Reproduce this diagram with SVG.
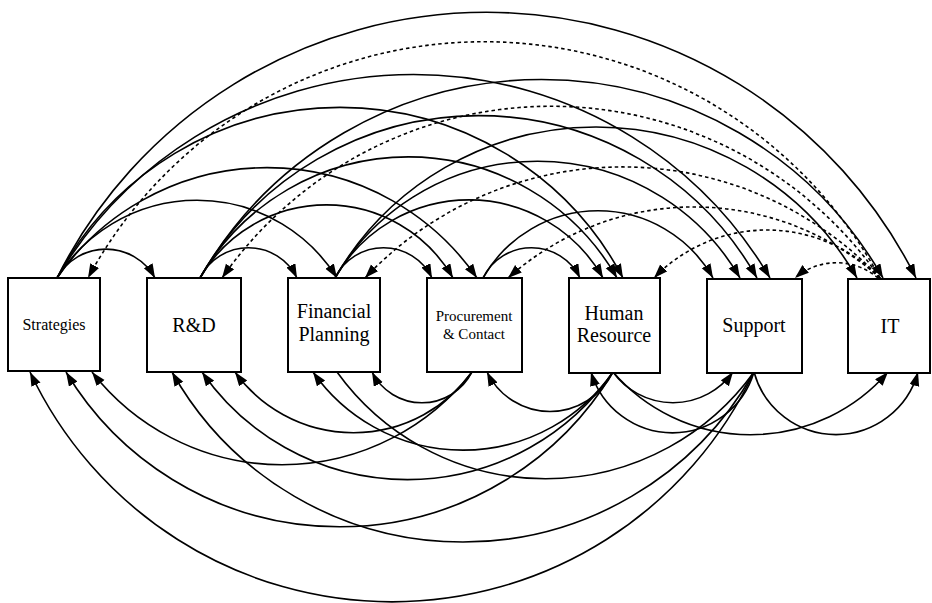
<svg xmlns="http://www.w3.org/2000/svg" width="932" height="603" viewBox="0 0 932 603">
<style>
.box{fill:#fff;stroke:#000;stroke-width:2}
.lbl{font-family:"Liberation Serif","Times New Roman",serif;fill:#000;text-anchor:middle}
.c{fill:none;stroke:#000;stroke-width:1.6}
.arr{marker-end:url(#ah)}
.d{stroke-dasharray:3.5 3}
</style>
<defs>
<marker id="ah" markerUnits="userSpaceOnUse" markerWidth="15" markerHeight="11" refX="14" refY="5" orient="auto">
<path d="M0,0 L14,5 L0,10 z" fill="#000"/>
</marker>
</defs>
<rect width="932" height="603" fill="#fff"/>
<g id="connectors">
<path class="c arr" d="M57,278 A56,56 0 0 1 155,278"/>
<path class="c arr" d="M57,278 A165,165 0 0 1 337,278"/>
<path class="c arr" d="M57,278 A255,255 0 0 1 477,278"/>
<path class="c arr" d="M57,278 A320,320 0 0 1 623,278"/>
<path class="c arr" d="M57,278 A414,414 0 0 1 770,278"/>
<path class="c arr" d="M57,278 A480,480 0 0 1 916,278"/>
<path class="c arr" d="M200,278 A54,54 0 0 1 297,278"/>
<path class="c arr" d="M200,278 A146,146 0 0 1 453,278"/>
<path class="c arr" d="M200,278 A240,240 0 0 1 617,278"/>
<path class="c arr" d="M200,278 A320,320 0 0 1 757,278"/>
<path class="c arr" d="M200,278 A393,393 0 0 1 883,278"/>
<path class="c arr" d="M335,278 A54,54 0 0 1 432,278"/>
<path class="c arr" d="M335,278 A154,154 0 0 1 603,278"/>
<path class="c arr" d="M335,278 A234,234 0 0 1 740,278"/>
<path class="c arr" d="M335,278 A301,301 0 0 1 857,278"/>
<path class="c arr" d="M483,278 A54,54 0 0 1 580,278"/>
<path class="c arr" d="M483,278 A132,132 0 0 1 713,278"/>
<path class="c arr d" d="M880,278 A450,450 0 0 0 88,278"/>
<path class="c arr d" d="M880,278 A401,401 0 0 0 222,278"/>
<path class="c arr d" d="M880,278 A354,354 0 0 0 365,278"/>
<path class="c arr d" d="M880,278 A279,279 0 0 0 508,278"/>
<path class="c arr d" d="M880,278 A157,157 0 0 0 654,278"/>
<path class="c arr d" d="M878,278 A64,64 0 0 0 795,278"/>
<path class="c arr" d="M472,372 A56,56 0 0 1 372,372"/>
<path class="c arr" d="M472,372 A146,146 0 0 1 235,372"/>
<path class="c arr" d="M472,372 A241,241 0 0 1 92,372"/>
<path class="c arr" d="M613,372 A70,70 0 0 1 487,372"/>
<path class="c arr" d="M613,372 A183,183 0 0 1 313,372"/>
<path class="c arr" d="M613,372 A250,250 0 0 1 202,372"/>
<path class="c arr" d="M613,372 A319,319 0 0 1 66,372"/>
<path class="c arr" d="M754,372 A85,85 0 0 1 591,372"/>
<path class="c arr" d="M754,372 A334,334 0 0 1 172,372"/>
<path class="c arr" d="M754,372 A400,400 0 0 1 30,372"/>
<path class="c" d="M754,372 A257,257 0 0 1 337,372"/>
<path class="c arr" d="M613,372 A74,74 0 0 0 733,372"/>
<path class="c arr" d="M613,372 A182,182 0 0 0 888,372"/>
<path class="c arr" d="M754,372 A85,85 0 0 0 918,372"/>
</g>
<g id="strategies"><rect class="box" x="8" y="278" width="92" height="93"/><text class="lbl" x="54" y="330" font-size="16">Strategies</text></g>
<g id="rd"><rect class="box" x="147" y="278" width="94" height="94"/><text class="lbl" x="194" y="332" font-size="20">R&amp;D</text></g>
<g id="financial"><rect class="box" x="288" y="278" width="92" height="94"/><text class="lbl" x="334" y="318" font-size="20">Financial</text><text class="lbl" x="334" y="341" font-size="20">Planning</text></g>
<g id="procurement"><rect class="box" x="427" y="278" width="95" height="94"/><text class="lbl" x="474" y="321" font-size="15">Procurement</text><text class="lbl" x="474" y="339" font-size="15">&amp; Contact</text></g>
<g id="hr"><rect class="box" x="569" y="278" width="91" height="95"/><text class="lbl" x="614" y="320" font-size="20">Human</text><text class="lbl" x="614" y="342" font-size="20">Resource</text></g>
<g id="support"><rect class="box" x="707" y="279" width="95" height="94"/><text class="lbl" x="754" y="332" font-size="20">Support</text></g>
<g id="it"><rect class="box" x="848" y="279" width="82" height="94"/><text class="lbl" x="890" y="333" font-size="20">IT</text></g>
</svg>
